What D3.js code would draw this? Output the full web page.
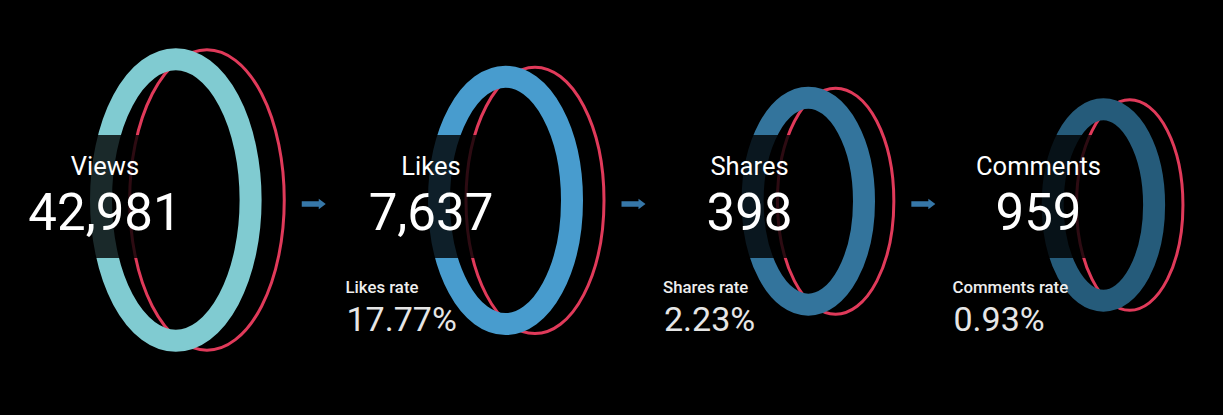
<!DOCTYPE html>
<html>
<head>
<meta charset="utf-8">
<script src="https://cdn.jsdelivr.net/npm/d3@7"></script>
<style>
  html, body { margin: 0; padding: 0; background: #000; }
  svg { display: block; }
  text { font-family: Roboto, "Noto Sans", sans-serif; }
</style>
</head>
<body>
<svg id="chart" width="1223" height="415"></svg>
<script>
// ---- data ----
const stages = ["Views", "Likes", "Shares", "Comments"];
const counts = [42981, 7637, 398, 959];
const rateStages = ["Likes", "Shares", "Comments"];
const rateLabels = ["Likes rate", "Shares rate", "Comments rate"];
const rateValues = [17.77, 2.23, 0.93];

// ---- layout / style config ----
const ringCenterX = [175.8, 505.5, 808.3, 1103.4];
const ringCenterY = [200, 200.4, 201.2, 205];
const ringOuterRx = [85.8, 77.5, 66.7, 61.7];
const ringOuterRy = [151.7, 134.7, 114.5, 106.7];
const textCenterX = [105, 431, 749.5, 1038.5];
const rateLeftX = [345.5, 663, 952.5];
const ringColors = ["#80cbd1", "#489cce", "#33749c", "#255b7a"];
const backColor = "#e03a5a";
const arrowColor = "#3677a8";
const ringWidth = 22;

const svg = d3.select("#chart");
svg.append("rect").attr("width", 1223).attr("height", 415).attr("fill", "#000");

const cx = d3.scaleOrdinal().domain(stages).range(ringCenterX);
const cy = d3.scaleOrdinal().domain(stages).range(ringCenterY);
const rx = d3.scaleOrdinal().domain(stages).range(ringOuterRx);
const ry = d3.scaleOrdinal().domain(stages).range(ringOuterRy);
const tx = d3.scaleOrdinal().domain(stages).range(textCenterX);
const color = d3.scaleOrdinal().domain(stages).range(ringColors);
const rateX = d3.scaleOrdinal().domain(rateStages).range(rateLeftX);

const data = stages.map((s, i) => ({ stage: s, value: counts[i] }));
const rateData = rateStages.map((s, i) => ({ stage: s, label: rateLabels[i], value: rateValues[i] }));

const rimCx = s => cx(s) + 0.2 * rx(s) + 14;
const rimRx = s => rx(s) - 7;

// back (red) rims
svg.append("g").selectAll("ellipse").data(data).join("ellipse")
  .attr("cx", d => rimCx(d.stage))
  .attr("cy", d => cy(d.stage))
  .attr("rx", d => rimRx(d.stage) - 1.5)
  .attr("ry", d => ry(d.stage) - 1.5)
  .attr("fill", "none")
  .attr("stroke", backColor)
  .attr("stroke-width", 3);

// front rings
svg.append("g").selectAll("ellipse").data(data).join("ellipse")
  .attr("cx", d => cx(d.stage))
  .attr("cy", d => cy(d.stage))
  .attr("rx", d => rx(d.stage) - ringWidth / 2)
  .attr("ry", d => ry(d.stage) - ringWidth / 2)
  .attr("fill", "none")
  .attr("stroke", d => color(d.stage))
  .attr("stroke-width", ringWidth);

// text groups
const fmt = d3.format(",");
const boxLayer = svg.append("g");
const textLayer = svg.append("g");

textLayer.selectAll("text.label").data(data).join("text")
  .attr("class", "label")
  .attr("x", d => tx(d.stage)).attr("y", 175)
  .attr("text-anchor", "middle")
  .attr("fill", "#fff")
  .attr("font-size", 25.5)
  .text(d => d.stage);

const nums = textLayer.selectAll("text.num").data(data).join("text")
  .attr("class", "num")
  .attr("x", d => tx(d.stage)).attr("y", 230)
  .attr("text-anchor", "middle")
  .attr("fill", "#fff")
  .attr("font-size", 51)
  .text(d => fmt(d.value));

nums.each(function(d) { d.w = this.getComputedTextLength(); });

boxLayer.selectAll("rect").data(data).join("rect")
  .attr("x", d => tx(d.stage) - d.w / 2 - 21)
  .attr("y", 135)
  .attr("width", d => d.w + 42)
  .attr("height", 123)
  .attr("fill", "#000")
  .attr("fill-opacity", 0.8);

textLayer.selectAll("text.rlabel").data(rateData).join("text")
  .attr("class", "rlabel")
  .attr("x", d => rateX(d.stage)).attr("y", 292.7)
  .attr("fill", "#eeeeee")
  .attr("font-size", 16.8)
  .attr("font-weight", 500)
  .text(d => d.label);

textLayer.selectAll("text.rval").data(rateData).join("text")
  .attr("class", "rval")
  .attr("x", d => rateX(d.stage) + 1).attr("y", 331)
  .attr("fill", "#e6e6e6")
  .attr("font-size", 34)
  .text(d => d3.format(".2f")(d.value) + "%");

// arrows between stages: just right of the previous stage's red rim
const arrowData = d3.pairs(data).map(([a, b]) => ({ a, b }));
const arrowX = d => rimCx(d.a.stage) + rimRx(d.a.stage) + 28;
svg.append("g").selectAll("path").data(arrowData).join("path")
  .attr("transform", d => `translate(${arrowX(d)},204)`)
  .attr("d", () => {
    const p = d3.path();
    p.moveTo(-12, -2.8); p.lineTo(5, -2.8); p.lineTo(5, -5.2); p.lineTo(12, 0);
    p.lineTo(5, 5.2); p.lineTo(5, 2.8); p.lineTo(-12, 2.8); p.closePath();
    return p.toString();
  })
  .attr("fill", arrowColor);
</script>
</body>
</html>
